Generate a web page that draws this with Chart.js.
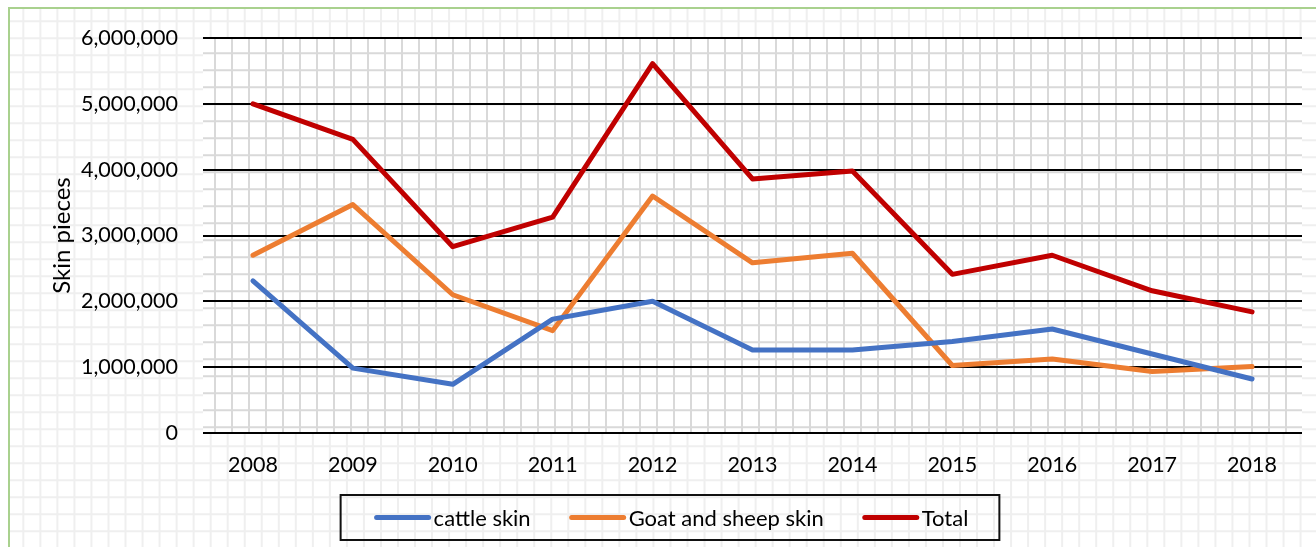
<!DOCTYPE html>
<html>
<head>
<meta charset="utf-8">
<script src="https://cdn.jsdelivr.net/npm/chart.js@4"></script>
<style>
html,body{margin:0;padding:0;background:#fff;}
#wrap{position:relative;width:1316px;height:547px;}
canvas{display:block;}
</style>
</head>
<body>
<div id="wrap"><canvas id="c" width="1316" height="547"></canvas></div>
<script>
// ---- data ----
const categories = ['2008','2009','2010','2011','2012','2013','2014','2015','2016','2017','2018'];
const cattleSkin = [2310000, 985000, 740000, 1730000, 2000000, 1260000, 1260000, 1390000, 1580000, 1200000, 820000];
const goatSheepSkin = [2700000, 3470000, 2100000, 1555000, 3600000, 2585000, 2730000, 1025000, 1125000, 935000, 1010000];
const totalSkin = [5000000, 4460000, 2830000, 3280000, 5610000, 3860000, 3980000, 2410000, 2700000, 2160000, 1840000];
const seriesNames = ['cattle skin', 'Goat and sheep skin', 'Total'];
const yTickValues = [0, 1000000, 2000000, 3000000, 4000000, 5000000, 6000000];
const yAxisTitle = 'Skin pieces';

const FONT = 'Lato, "Open Sans", sans-serif';

// graph-paper background + frame
const paperPlugin = {
  id: 'paper',
  beforeDraw(chart) {
    const {ctx, width, height, chartArea: a} = chart;
    ctx.save();
    ctx.fillStyle = '#fff';
    ctx.fillRect(0, 0, width, height);
    ctx.beginPath();
    ctx.rect(9, 9, width, height);
    ctx.clip();
    ctx.strokeStyle = '#efefef';
    ctx.lineWidth = 2;
    ctx.beginPath();
    for (let x = 6.3; x < width; x += 17.03) { ctx.moveTo(x, 0); ctx.lineTo(x, height); }
    for (let y = 4.3; y < height; y += 17.0) { ctx.moveTo(0, y); ctx.lineTo(width, y); }
    ctx.stroke();
    ctx.restore();
    ctx.save();
    ctx.beginPath();
    ctx.rect(a.left, a.top, a.right - a.left, a.bottom - a.top);
    ctx.clip();
    ctx.fillStyle = '#fff';
    ctx.fillRect(a.left, a.top, a.right - a.left, a.bottom - a.top);
    ctx.strokeStyle = '#d9d9d9';
    ctx.lineWidth = 2;
    ctx.beginPath();
    for (let x = a.left + 12; x < a.right; x += 17.0) { ctx.moveTo(x, a.top); ctx.lineTo(x, a.bottom); }
    for (let y = a.top - 1.7; y < a.bottom; y += 17.0) { ctx.moveTo(a.left, y); ctx.lineTo(a.right, y); }
    ctx.stroke();
    ctx.restore();
    ctx.save();
    ctx.strokeStyle = '#a9d18e';
    ctx.lineWidth = 2;
    ctx.strokeRect(9, 8, width + 20, height + 20);
    ctx.restore();
  }
};

// boxed legend
const boxLegend = {
  id: 'boxLegend',
  afterDraw(chart) {
    const {ctx, chartArea: a} = chart;
    ctx.save();
    ctx.font = '22px ' + FONT;
    ctx.textBaseline = 'middle';
    const sample = 52, gapText = 3, gapItem = 39, padL = 34, padR = 31;
    const items = chart.data.datasets.map(ds => ({label: ds.label, color: ds.borderColor, w: ctx.measureText(ds.label).width}));
    let inner = 0;
    items.forEach((it, i) => { inner += sample + 4 + gapText + it.w + (i ? gapItem : 0); });
    const boxW = inner + padL + padR;
    const cx = chart.width / 2 + 12;
    const left = cx - boxW / 2;
    const top = a.bottom + 62;
    const h = 45;
    ctx.strokeStyle = '#111';
    ctx.lineWidth = 2;
    ctx.strokeRect(left, top, boxW, h);
    let x = left + padL;
    const y = top + h / 2;
    items.forEach((it, i) => {
      if (i) x += gapItem;
      ctx.strokeStyle = it.color;
      ctx.lineWidth = 5;
      ctx.lineCap = 'round';
      ctx.beginPath();
      ctx.moveTo(x + 2, y);
      ctx.lineTo(x + 2 + sample, y);
      ctx.stroke();
      x += sample + 4 + gapText;
      ctx.fillStyle = '#000';
      ctx.fillText(it.label, x, y + 1);
      x += it.w;
    });
    ctx.restore();
  }
};

const mk = (label, data, color) => ({
  label, data, borderColor: color, backgroundColor: color,
  borderWidth: 5, pointRadius: 0, tension: 0,
  borderCapStyle: 'round', borderJoinStyle: 'round', fill: false
});

new Chart(document.getElementById('c'), {
  type: 'line',
  data: {
    labels: categories,
    datasets: [
      mk(seriesNames[0], cattleSkin, '#4472c4'),
      mk(seriesNames[1], goatSheepSkin, '#ed7d31'),
      mk(seriesNames[2], totalSkin, '#c00000')
    ]
  },
  options: {
    responsive: false,
    animation: false,
    events: [],
    layout: { padding: { left: 40, right: 14, top: 38, bottom: 54 } },
    plugins: { legend: { display: false }, tooltip: { enabled: false } },
    scales: {
      x: {
        offset: true,
        grid: { display: false, drawTicks: false },
        border: { display: false },
        ticks: { color: '#000', font: { family: FONT, size: 21.5 }, padding: 19, maxRotation: 0 },
        afterFit(s) { s.height = 60; }
      },
      y: {
        min: 0, max: 6000000,
        afterBuildTicks(s) { s.ticks = yTickValues.map(v => ({value: v})); },
        grid: { color: '#000', lineWidth: 2, drawTicks: false },
        border: { display: false },
        ticks: {
          color: '#000', font: { family: FONT, size: 21.5 }, padding: 25,
          callback: v => Number(v).toLocaleString('en-US')
        },
        title: { display: true, text: yAxisTitle, color: '#000', font: { family: FONT, size: 24 }, padding: { top: 8, bottom: 0 } },
        afterFit(s) { s.width = 163; }
      }
    }
  },
  plugins: [paperPlugin, boxLegend]
});
</script>
</body>
</html>
